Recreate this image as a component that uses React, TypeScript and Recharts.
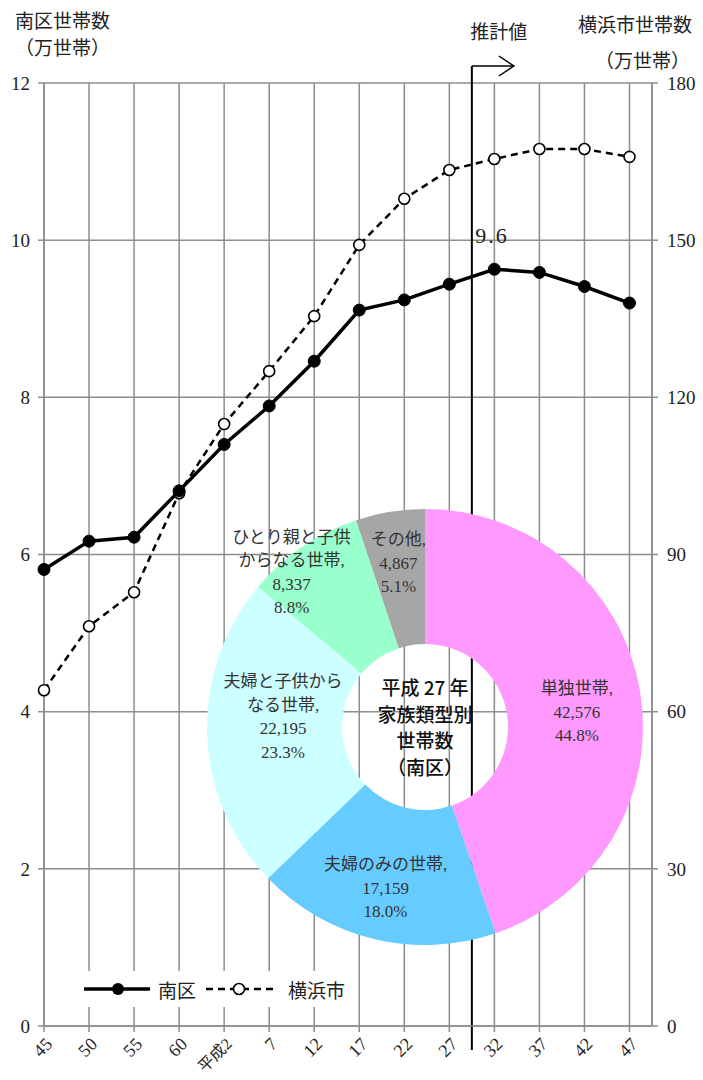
import React from 'react';
import {
  ComposedChart, Line, XAxis, YAxis, CartesianGrid, ReferenceLine, PieChart, Pie, Cell,
} from 'recharts';

// 年次ラベル（昭和45年〜平成47年）
const years = ['45', '50', '55', '60', '平成2', '7', '12', '17', '22', '27', '32', '37', '42', '47'];
// 南区世帯数（万世帯）
const minami = [5.81, 6.17, 6.22, 6.81, 7.40, 7.89, 8.46, 9.11, 9.24, 9.44, 9.63, 9.59, 9.41, 9.20];
// 横浜市世帯数（万世帯）
const yokohama = [64.1, 76.3, 82.8, 101.7, 114.9, 125.0, 135.5, 149.1, 157.9, 163.4, 165.5, 167.4, 167.4, 165.9];
const leftTicks = [0, 2, 4, 6, 8, 10, 12];
const rightTicks = [0, 30, 60, 90, 120, 150, 180];

// 平成27年 家族類型別世帯数（南区）
const pieNames = ['単独世帯,', '夫婦のみの世帯,', '夫婦と子供から\nなる世帯,', 'ひとり親と子供\nからなる世帯,', 'その他,'];
const pieValues = [42576, 17159, 22195, 8337, 4867];
const pieColors = ['#FF99FF', '#66CCFF', '#CCFFFF', '#99FFCC', '#A6A6A6'];

const data = years.map((year, i) => ({ i, year, minami: minami[i], yokohama: yokohama[i] }));
const pieData = pieNames.map((name, i) => ({ name, value: pieValues[i] }));

const serif = "'Liberation Serif', 'Noto Sans CJK JP', serif";
const sans = "'Noto Sans CJK JP', sans-serif";
const grid = '#8c8c8c';
const RAD = Math.PI / 180;

const XTick = ({ x, y, payload }: any) => {
  const tx = x + 5;
  const ty = y + 7;
  const long = years[payload.value].length > 2;
  return (
    <text x={tx} y={ty} transform={`rotate(-45 ${tx} ${ty})`} textAnchor="end" dominantBaseline="central"
      fontSize={long ? 16 : 18} fontFamily={serif} fill="#222">
      {years[payload.value]}
    </text>
  );
};

// label placement: radius along the slice middle, then a small nudge
const labelRadius = [152, 168, 142, 200, 166];
const labelNudge = [[2, 10], [0, -2], [0, -15], [-21, 11], [0, 0]];

const PieLabel = ({ cx, cy, midAngle, percent, index }: any) => {
  const r = labelRadius[index];
  const x = cx + r * Math.cos(-midAngle * RAD) + labelNudge[index][0];
  const y = cy + r * Math.sin(-midAngle * RAD) + labelNudge[index][1];
  const lines = [
    ...pieNames[index].split('\n'),
    pieValues[index].toLocaleString('en-US'),
    (percent * 100).toFixed(1) + '%',
  ];
  const lh = 23.5;
  const y0 = y - ((lines.length - 1) * lh) / 2;
  return (
    <text x={x} textAnchor="middle" fontSize={17} fontFamily={serif} fill="#333">
      {lines.map((t, k) => (
        <tspan key={k} x={x} y={y0 + k * lh} dominantBaseline="central">{t}</tspan>
      ))}
    </text>
  );
};

const ArrowShape = (p: any) => {
  const x = p.x1;
  const top = Math.min(p.y1, p.y2) - 17;
  const bottom = Math.max(p.y1, p.y2) + 24;
  return (
    <g>
      <line x1={x} y1={top} x2={x} y2={bottom} stroke="#000" strokeWidth={2} />
      <polyline points={`${x},${top} ${x + 42},${top}`} stroke="#000" strokeWidth={1.5} fill="none" />
      <polyline points={`${x + 27},${top - 10} ${x + 42},${top} ${x + 27},${top + 10}`} stroke="#000" strokeWidth={1.5} fill="none" />
      <text x={x + 27} y={top - 27} textAnchor="middle" fontSize={19} fontFamily={sans} fill="#222">推計値</text>
    </g>
  );
};

const PeakLabel = ({ x, y, index }: any) =>
  index === 10 ? (
    <text x={x - 19} y={y - 26} fontSize={22} fontFamily={serif} fill="#222" letterSpacing={2}>9.6</text>
  ) : null;

export default function App() {
  return (
    <div style={{ position: 'absolute', left: 0, top: 0, width: 703, height: 1080, background: '#fff' }}>
      <ComposedChart width={703} height={1080} data={data} margin={{ top: 83, right: 0, bottom: 0, left: 0 }}>
        <CartesianGrid yAxisId="left" stroke={grid} strokeWidth={1.5} />
        <XAxis type="number" dataKey="i" domain={[0, 13.5]} ticks={years.map((_, i) => i)} interval={0}
          height={54} tickSize={6} tickLine={{ stroke: grid, strokeWidth: 1.5 }}
          axisLine={{ stroke: grid, strokeWidth: 1.5 }} tick={<XTick />} />
        <YAxis yAxisId="left" domain={[0, 12]} ticks={leftTicks} width={44} tickSize={6} tickMargin={8}
          tickLine={{ stroke: grid, strokeWidth: 1.5 }} axisLine={{ stroke: grid, strokeWidth: 1.5 }}
          tick={{ fontSize: 19, fontFamily: serif, fill: '#222' }} />
        <YAxis yAxisId="right" orientation="right" domain={[0, 180]} ticks={rightTicks} width={51} tickSize={6}
          tickMargin={9} tickLine={{ stroke: grid, strokeWidth: 1.5 }} axisLine={{ stroke: grid, strokeWidth: 1.5 }}
          tick={{ fontSize: 19, fontFamily: serif, fill: '#222', textAnchor: 'start' }} />
        <ReferenceLine yAxisId="left" x={9.5} shape={ArrowShape} />
        <Line yAxisId="right" dataKey="yokohama" stroke="#000" strokeWidth={2.5} strokeDasharray="7 5"
          dot={{ r: 5.5, fill: '#fff', stroke: '#000', strokeWidth: 1.6, strokeDasharray: '' }}
          isAnimationActive={false} />
        <Line yAxisId="left" dataKey="minami" stroke="#000" strokeWidth={3.5}
          dot={{ r: 6, fill: '#000', stroke: '#000', strokeWidth: 1 }} label={<PeakLabel />}
          isAnimationActive={false} />
      </ComposedChart>

      <div style={{ position: 'absolute', left: 0, top: 0, pointerEvents: 'none' }}>
        <PieChart width={703} height={1080} margin={{ top: 0, right: 0, bottom: 0, left: 0 }}>
          <Pie data={pieData} dataKey="value" cx={425} cy={727} innerRadius={83} outerRadius={218}
            startAngle={90} endAngle={-270} stroke="none" labelLine={false} label={PieLabel}
            isAnimationActive={false}>
            {pieData.map((_, i) => <Cell key={i} fill={pieColors[i]} />)}
          </Pie>
        </PieChart>
      </div>

      <div style={{
        position: 'absolute', left: 345, top: 674, width: 160, textAlign: 'center',
        fontFamily: sans, fontSize: 19, fontWeight: 500, lineHeight: '26.5px', color: '#111',
      }}>
        平成 27 年<br />家族類型別<br />世帯数<br />（南区）
      </div>

      <div style={{ position: 'absolute', left: 15, top: 6, fontFamily: sans, fontSize: 19, color: '#222', lineHeight: '27px' }}>
        南区世帯数<br /><span>（万世帯）</span>
      </div>
      <div style={{ position: 'absolute', left: 578, top: 6, fontFamily: sans, fontSize: 19, color: '#222', lineHeight: '36px', textAlign: 'right' }}>
        横浜市世帯数<br /><span style={{ marginRight: 2 }}>（万世帯）</span>
      </div>

      <div style={{
        position: 'absolute', left: 72, top: 971, width: 282, height: 36, background: '#fff',
        display: 'flex', alignItems: 'center', fontFamily: sans, fontSize: 19, color: '#222',
      }}>
        <svg width={82} height={20} style={{ marginLeft: 10 }}>
          <line x1={2} y1={10} x2={68} y2={10} stroke="#000" strokeWidth={3.5} />
          <circle cx={36} cy={10} r={6} fill="#000" />
        </svg>
        <span style={{ marginLeft: -6 }}>南区</span>
        <svg width={80} height={20} style={{ marginLeft: 8 }}>
          <line x1={2} y1={10} x2={70} y2={10} stroke="#000" strokeWidth={2.5} strokeDasharray="7 5" />
          <circle cx={35} cy={10} r={5.5} fill="#fff" stroke="#000" strokeWidth={1.6} />
        </svg>
        <span style={{ marginLeft: 4 }}>横浜市</span>
      </div>
    </div>
  );
}
